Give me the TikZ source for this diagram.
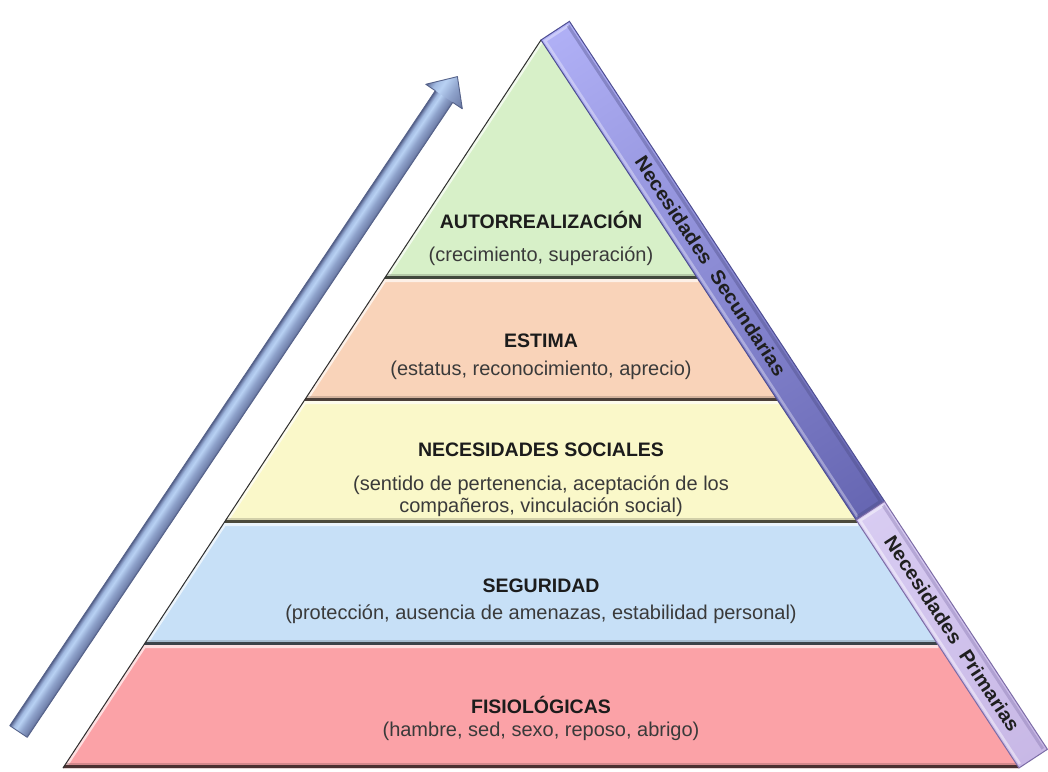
\documentclass[tikz,border=0pt]{standalone}
\usepackage{fontspec}
\setmainfont{Liberation Sans}
\usepackage{graphicx}

% tier fills
\definecolor{tierGreen}{HTML}{D7F0C8}
\definecolor{tierPeach}{HTML}{F9D3B9}
\definecolor{tierYellow}{HTML}{FAF8C9}
\definecolor{tierBlue}{HTML}{C7E0F7}
\definecolor{tierRed}{HTML}{FBA2A7}
\definecolor{pyrEdge}{HTML}{2E2E2E}
% side band
\definecolor{secLight}{HTML}{B0B0F6}
\definecolor{secMid}{HTML}{9696E3}
\definecolor{secDark}{HTML}{6666B2}
\definecolor{secEdge}{HTML}{4E4E92}
\definecolor{priLight}{HTML}{D8CCF2}
\definecolor{priMain}{HTML}{C8B8E6}
\definecolor{priEdge}{HTML}{7C6CA6}
% arrow
\definecolor{arEdge}{HTML}{55628A}
\definecolor{arDark}{HTML}{7484AE}
\definecolor{arMid}{HTML}{8EA2CB}
\definecolor{arLight}{HTML}{B8D1F3}
\definecolor{arLight2}{HTML}{A3BBE2}
% text
\definecolor{titleInk}{HTML}{1C1C1C}
\definecolor{subInk}{HTML}{3A3A3A}

\pgfdeclareverticalshading{arrowbody}{100bp}{%
  color(0bp)=(arEdge); color(25bp)=(arEdge); color(31bp)=(arDark);
  color(44bp)=(arMid); color(58bp)=(arLight); color(66bp)=(arLight2);
  color(72bp)=(arDark); color(75bp)=(arEdge); color(100bp)=(arEdge)}

% one tier of the pyramid: #1 colour, #2 top y, #3 bottom y
\newcommand{\pyrtier}[3]{%
  \pgfmathsetmacro{\pyrTL}{541-0.6566*(#2-40)}%
  \pgfmathsetmacro{\pyrTR}{541+0.6566*(#2-40)}%
  \pgfmathsetmacro{\pyrBL}{541-0.6566*(#3-40)}%
  \pgfmathsetmacro{\pyrBR}{541+0.6566*(#3-40)}%
  \fill[#1] (\pyrTL,#2) -- (\pyrTR,#2) -- (\pyrBR,#3) -- (\pyrBL,#3) -- cycle;
  \begin{scope}
    \clip (\pyrTL,#2) -- (\pyrTR,#2) -- (\pyrBR,#3) -- (\pyrBL,#3) -- cycle;
    \draw[#1!35!white, line width=6] (\pyrBL,#3) -- (\pyrTL,#2) -- (\pyrTR,#2);
    \draw[#1!55!black, line width=11, opacity=.35] (\pyrBL,#3) -- (\pyrBR,#3);
    \draw[#1!30!black, line width=6.5] (\pyrBL,#3) -- (\pyrBR,#3);
  \end{scope}
}

\begin{document}
\begin{tikzpicture}[x=1pt, y=-1pt,
  title/.style={font=\fontsize{19.5}{22}\selectfont\bfseries, text=titleInk,
    anchor=base, inner sep=0pt},
  subtitle/.style={font=\fontsize{20}{22}\selectfont, text=subInk,
    anchor=base, inner sep=0pt},
  bandtext/.style={font=\fontsize{19.5}{22}\selectfont\bfseries, text=black!88,
    inner sep=0pt}]

\useasboundingbox[fill=white] (0,0) rectangle (1048,771);

% rising arrow on the left
\begin{scope}[transform canvas={shift={(18.5,731.5)}, rotate=56.17}]
  \shade[shading=arrowbody] (0,-10.5) rectangle (765,10.5);
  \shade[shading=arrowbody] (764.4,-22) -- (788.4,0) -- (764.4,22) -- cycle;
  \draw[arEdge, line width=0.9, line join=round]
    (0,-10.5) -- (764.4,-10.5) -- (764.4,-22) -- (788.4,0) -- (764.4,22)
    -- (764.4,10.5) -- (0,10.5) -- cycle;
\end{scope}

% pyramid tiers, top to bottom
\pyrtier{tierGreen}{40}{279}
\pyrtier{tierPeach}{279}{401}
\pyrtier{tierYellow}{401}{523}
\pyrtier{tierBlue}{523}{645}
\pyrtier{tierRed}{645}{768}
\draw[pyrEdge, line width=1] (63,768) -- (541,40);

% side band along the right edge
\begin{scope}[transform canvas={shift={(541,40)}, rotate=-56.71}]
  \shade[left color=secLight, middle color=secMid, right color=secDark]
    (0,0) rectangle (574.2,-34);
  \draw[white, opacity=.35, line width=2.5] (3,-31) -- (3,-3) -- (572,-3);
  \draw[secDark!70!black, opacity=.35, line width=3] (3,-30.5) -- (572,-30.5) -- (572,-3);
  \draw[secEdge, line width=1] (0,0) rectangle (574.2,-34);
  \shade[left color=priLight, right color=priMain] (574.2,0) rectangle (870.9,-34);
  \draw[white, opacity=.45, line width=2.5] (577,-31) -- (577,-3) -- (868,-3);
  \draw[priEdge, opacity=.35, line width=3] (577,-30.5) -- (868,-30.5);
  \draw[priEdge, line width=1] (574.2,0) rectangle (870.9,-34);
  \node[bandtext] (secLabel) at (282,-18)
    {\scalebox{1.05}[1]{Necesidades\ \ Secundarias}};
  \node[bandtext] (priLabel) at (722,-18)
    {\scalebox{1.05}[1]{Necesidades\ \ Primarias}};
\end{scope}

% tier labels
\node[title] (selfT) at (541,228) {AUTORREALIZACIÓN};
\node[subtitle] (selfS) at (541,261) {(crecimiento, superación)};
\node[title] (esteemT) at (541,347) {ESTIMA};
\node[subtitle] (esteemS) at (541,375) {(estatus, reconocimiento, aprecio)};
\node[title] (socialT) at (541,456) {NECESIDADES SOCIALES};
\node[subtitle] (socialS1) at (541,490) {(sentido de pertenencia, aceptación de los};
\node[subtitle] (socialS2) at (541,512) {compañeros, vinculación social)};
\node[title] (safetyT) at (541,592) {SEGURIDAD};
\node[subtitle] (safetyS) at (541,619) {(protección, ausencia de amenazas, estabilidad personal)};
\node[title] (physioT) at (541,713) {FISIOLÓGICAS};
\node[subtitle] (physioS) at (541,736) {(hambre, sed, sexo, reposo, abrigo)};
\end{tikzpicture}
\end{document}
